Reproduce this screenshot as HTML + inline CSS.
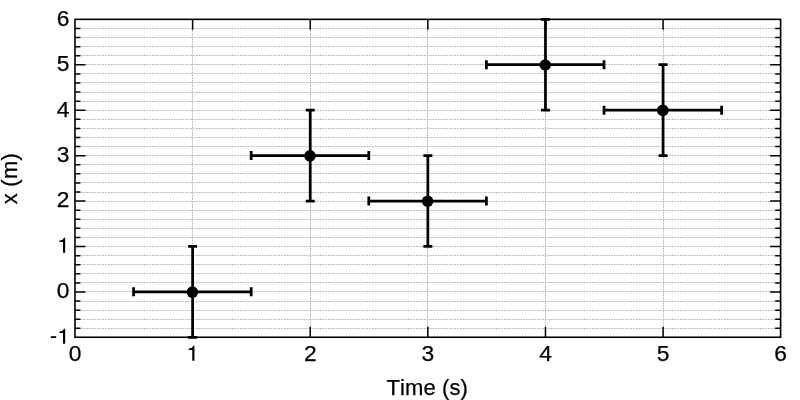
<!DOCTYPE html>
<html><head><meta charset="utf-8"><title>chart</title>
<style>
html,body{margin:0;padding:0;background:#fff;}
body{width:800px;height:400px;overflow:hidden;}
svg{display:block;will-change:transform;}
text{font-family:"Liberation Sans",sans-serif;font-size:22px;font-kerning:none;fill:#000;stroke:#000;stroke-width:0.25px;}
.t{font-size:22.8px;}
</style></head><body>
<svg width="800" height="400" viewBox="0 0 800 400">
<rect x="0" y="0" width="800" height="400" fill="#fff"/>
<path d="M75.00 328.50H780.60M75.00 319.50H780.60M75.00 310.50H780.60M75.00 301.50H780.60M75.00 291.50H780.60M75.00 282.50H780.60M75.00 273.50H780.60M75.00 264.50H780.60M75.00 255.50H780.60M75.00 246.50H780.60M75.00 237.50H780.60M75.00 228.50H780.60M75.00 219.50H780.60M75.00 210.50H780.60M75.00 201.50H780.60M75.00 192.50H780.60M75.00 182.50H780.60M75.00 173.50H780.60M75.00 164.50H780.60M75.00 155.50H780.60M75.00 146.50H780.60M75.00 137.50H780.60M75.00 128.50H780.60M75.00 119.50H780.60M75.00 110.50H780.60M75.00 101.50H780.60M75.00 92.50H780.60M75.00 82.50H780.60M75.00 73.50H780.60M75.00 64.50H780.60M75.00 55.50H780.60M75.00 46.50H780.60M75.00 37.50H780.60M75.00 28.50H780.60M192.50 19.35V337.25M310.50 19.35V337.25M427.50 19.35V337.25M545.50 19.35V337.25M663.50 19.35V337.25" stroke="#b5b5b5" stroke-width="1" stroke-dasharray="1.65 1.1" fill="none"/>
<path d="M75.00 328.31h5.4M780.60 328.31h-5.4M75.00 319.23h5.4M780.60 319.23h-5.4M75.00 310.14h5.4M780.60 310.14h-5.4M75.00 301.06h5.4M780.60 301.06h-5.4M75.00 291.97h10.5M780.60 291.97h-10.5M75.00 282.89h5.4M780.60 282.89h-5.4M75.00 273.80h5.4M780.60 273.80h-5.4M75.00 264.71h5.4M780.60 264.71h-5.4M75.00 255.63h5.4M780.60 255.63h-5.4M75.00 246.54h10.5M780.60 246.54h-10.5M75.00 237.46h5.4M780.60 237.46h-5.4M75.00 228.37h5.4M780.60 228.37h-5.4M75.00 219.29h5.4M780.60 219.29h-5.4M75.00 210.20h5.4M780.60 210.20h-5.4M75.00 201.11h10.5M780.60 201.11h-10.5M75.00 192.03h5.4M780.60 192.03h-5.4M75.00 182.94h5.4M780.60 182.94h-5.4M75.00 173.86h5.4M780.60 173.86h-5.4M75.00 164.77h5.4M780.60 164.77h-5.4M75.00 155.69h10.5M780.60 155.69h-10.5M75.00 146.60h5.4M780.60 146.60h-5.4M75.00 137.51h5.4M780.60 137.51h-5.4M75.00 128.43h5.4M780.60 128.43h-5.4M75.00 119.34h5.4M780.60 119.34h-5.4M75.00 110.26h10.5M780.60 110.26h-10.5M75.00 101.17h5.4M780.60 101.17h-5.4M75.00 92.09h5.4M780.60 92.09h-5.4M75.00 83.00h5.4M780.60 83.00h-5.4M75.00 73.91h5.4M780.60 73.91h-5.4M75.00 64.83h10.5M780.60 64.83h-10.5M75.00 55.74h5.4M780.60 55.74h-5.4M75.00 46.66h5.4M780.60 46.66h-5.4M75.00 37.57h5.4M780.60 37.57h-5.4M75.00 28.49h5.4M780.60 28.49h-5.4M192.62 337.25v-10.5M192.62 19.35v10.5M310.23 337.25v-10.5M310.23 19.35v10.5M427.85 337.25v-10.5M427.85 19.35v10.5M545.47 337.25v-10.5M545.47 19.35v10.5M663.08 337.25v-10.5M663.08 19.35v10.5" stroke="#000" stroke-width="1.5" fill="none"/>
<rect x="75.0" y="19.35" width="705.60" height="317.90" fill="none" stroke="#000" stroke-width="1.6"/>
<path d="M65.17 328.65V343.65H63.02V332.95H59.47V331.40Q63.32 331.30 63.77 328.65Z" fill="#000"/>
<rect x="50.82" y="336.20" width="5.3" height="1.8" fill="#000"/>
<text x="69.50" y="298.22" text-anchor="end" class="t">0</text>
<path d="M65.17 237.79V252.79H63.02V242.09H59.47V240.54Q63.32 240.44 63.77 237.79Z" fill="#000"/>
<text x="69.50" y="207.36" text-anchor="end" class="t">2</text>
<text x="69.50" y="161.94" text-anchor="end" class="t">3</text>
<text x="69.50" y="116.51" text-anchor="end" class="t">4</text>
<text x="69.50" y="71.08" text-anchor="end" class="t">5</text>
<text x="69.50" y="25.65" text-anchor="end" class="t">6</text>
<text x="75.00" y="360.8" text-anchor="middle" class="t">0</text>
<path d="M194.42 345.80V360.80H192.27V350.10H188.72V348.55Q192.57 348.45 193.02 345.80Z" fill="#000"/>
<text x="310.23" y="360.8" text-anchor="middle" class="t">2</text>
<text x="427.85" y="360.8" text-anchor="middle" class="t">3</text>
<text x="545.47" y="360.8" text-anchor="middle" class="t">4</text>
<text x="663.08" y="360.8" text-anchor="middle" class="t">5</text>
<text x="780.70" y="360.8" text-anchor="middle" class="t">6</text>
<text x="427.3" y="395.1" text-anchor="middle" style="letter-spacing:0.1px">Time (s)</text>
<text transform="translate(17.2,178.6) rotate(-90)" text-anchor="middle" style="letter-spacing:0.2px">x (m)</text>
<path d="M133.56 291.87H251.18M133.56 287.37v9.0M251.18 287.37v9.0M192.62 337.30V246.44M188.12 337.30h9.0M188.12 246.44h9.0M251.18 155.59H368.79M251.18 151.09v9.0M368.79 151.09v9.0M310.23 201.01V110.16M305.73 201.01h9.0M305.73 110.16h9.0M368.79 201.01H486.41M368.79 196.51v9.0M486.41 196.51v9.0M427.85 246.44V155.59M423.35 246.44h9.0M423.35 155.59h9.0M486.41 64.73H604.02M486.41 60.23v9.0M604.02 60.23v9.0M545.47 110.16V19.30M540.97 110.16h9.0M540.97 19.30h9.0M604.02 110.16H721.64M604.02 105.66v9.0M721.64 105.66v9.0M663.08 155.59V64.73M658.58 155.59h9.0M658.58 64.73h9.0" stroke="#000" stroke-width="2.75" fill="none"/>
<circle cx="192.37" cy="292.12" r="5.8" fill="#000"/>
<circle cx="309.98" cy="155.84" r="5.8" fill="#000"/>
<circle cx="427.60" cy="201.26" r="5.8" fill="#000"/>
<circle cx="545.22" cy="64.98" r="5.8" fill="#000"/>
<circle cx="662.83" cy="110.41" r="5.8" fill="#000"/>
</svg></body></html>
